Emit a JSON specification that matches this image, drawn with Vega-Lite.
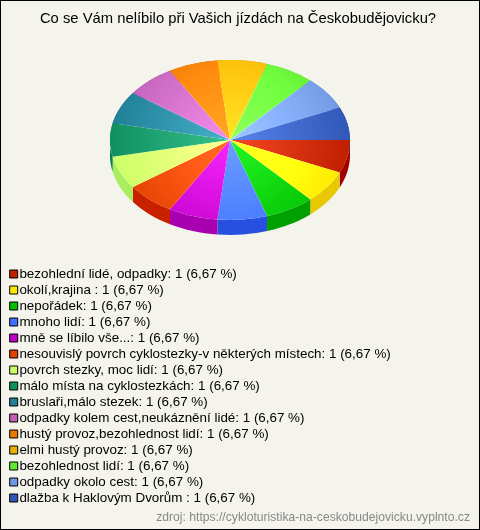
{
"$schema":"https://vega.github.io/schema/vega-lite/v6.json",
"width":480,"height":530,"padding":0,"autosize":{"type":"none"},
"background":"#f5f4ec",
"config":{"font":"Liberation Sans","view":{"fill":"#f5f4ec","stroke":"#000","strokeWidth":2}},
"title":{"text":"Co se Vám nelíbilo při Vašich jízdách na Českobudějovicku?","font":"Liberation Sans","fontSize":14.8,"fontWeight":"normal","color":"#000","anchor":"middle","frame":"group","offset":-26,"dx":-2},
"data":{"values":[
{"poradi":1,"odpoved":"bezohlední lidé, odpadky: 1 (6,67 %)","pocet":1},
{"poradi":2,"odpoved":"okolí,krajina : 1 (6,67 %)","pocet":1},
{"poradi":3,"odpoved":"nepořádek: 1 (6,67 %)","pocet":1},
{"poradi":4,"odpoved":"mnoho lidí: 1 (6,67 %)","pocet":1},
{"poradi":5,"odpoved":"mně se líbilo vše...: 1 (6,67 %)","pocet":1},
{"poradi":6,"odpoved":"nesouvislý povrch cyklostezky-v některých místech: 1 (6,67 %)","pocet":1},
{"poradi":7,"odpoved":"povrch stezky, moc lidí: 1 (6,67 %)","pocet":1},
{"poradi":8,"odpoved":"málo místa na cyklostezkách: 1 (6,67 %)","pocet":1},
{"poradi":9,"odpoved":"bruslaři,málo stezek: 1 (6,67 %)","pocet":1},
{"poradi":10,"odpoved":"odpadky kolem cest,neukáznění lidé: 1 (6,67 %)","pocet":1},
{"poradi":11,"odpoved":"hustý provoz,bezohlednost lidí: 1 (6,67 %)","pocet":1},
{"poradi":12,"odpoved":"elmi hustý provoz: 1 (6,67 %)","pocet":1},
{"poradi":13,"odpoved":"bezohlednost lidí: 1 (6,67 %)","pocet":1},
{"poradi":14,"odpoved":"odpadky okolo cest: 1 (6,67 %)","pocet":1},
{"poradi":15,"odpoved":"dlažba k Haklovým Dvorům : 1 (6,67 %)","pocet":1}
]},
"encoding":{
"x":{"datum":230,"type":"quantitative","scale":{"domain":[0,480],"range":[0,480],"nice":false,"zero":false},"axis":null},
"y":{"datum":140,"type":"quantitative","scale":{"domain":[0,530],"range":[0,530],"nice":false,"zero":false},"axis":null}
},
"transform":[
{"stack":"pocet","groupby":[],"sort":[{"field":"poradi","order":"ascending"}],"as":["s0","s1"]},
{"joinaggregate":[{"op":"sum","field":"pocet","as":"celkem"}]},
{"calculate":"round(12000*cos(2*PI*datum.s0/datum.celkem))/100","as":"x0"},
{"calculate":"round(8000*sin(2*PI*datum.s0/datum.celkem))/100","as":"y0"},
{"calculate":"round(12000*cos(2*PI*datum.s1/datum.celkem))/100","as":"x1"},
{"calculate":"round(8000*sin(2*PI*datum.s1/datum.celkem))/100","as":"y1"},
{"calculate":"'M0,0L'+datum.x0+','+datum.y0+'A120,80 0 0 1 '+datum.x1+','+datum.y1+'Z'","as":"vysec"},
{"calculate":"'M'+datum.x0+','+datum.y0+'A120,80 0 0 1 '+datum.x1+','+datum.y1+'L'+datum.x1+','+(datum.y1+15)+'A120,80 0 0 0 '+datum.x0+','+(datum.y0+15)+'Z'","as":"bok"}
],
"resolve":{"scale":{"fill":"independent"}},
"layer":[
{"mark":{"type":"point","filled":true,"size":4,"opacity":1},
 "encoding":{
  "shape":{"field":"bok","type":"nominal","scale":null,"legend":null},
  "fill":{"field":"odpoved","type":"nominal","legend":null,"sort":null,"scale":{"range":["#a00000","#e8c800","#00a000","#2850e0","#a800b0","#c82000","#a8ee60","#008040","#186878","#a04898","#c86000","#c89800","#40c820","#5878c0","#204098"]}}
 }},
{"mark":{"type":"point","filled":true,"size":4,"opacity":1},
 "encoding":{
  "shape":{"field":"vysec","type":"nominal","scale":null,"legend":null},
  "fill":{"field":"odpoved","type":"nominal","sort":null,
   "scale":{"range":["#c02000","#ffe800","#00c000","#4070ff","#c000c8","#e04000","#ccff66","#109060","#208098","#c060b8","#e87800","#e8b000","#60e830","#7098e0","#3058b8"]},
   "legend":{"title":null,"orient":"none","legendX":7,"legendY":266,"symbolType":"square","symbolSize":64,"symbolStrokeColor":"#000","symbolStrokeWidth":1,"symbolOpacity":1,"labelFont":"Liberation Sans","labelFontSize":13.4,"labelColor":"#000","labelLimit":460,"labelOffset":-1,"clipHeight":16,"rowPadding":0}}
 }},
{"data":{"values":[{"vrstva":"odlesk"}]},
 "mark":{"type":"point","filled":true,"size":4,"opacity":1,"blend":"color-dodge","shape":"M-120,0A120,80 0 1 1 120,0A120,80 0 1 1 -120,0Z",
  "fill":{"gradient":"radial","x1":0.5,"y1":0.5,"r1":0,"x2":0.5,"y2":0.5,"r2":0.5,"stops":[{"offset":0,"color":"#383838"},{"offset":1,"color":"#000000"}]}}},
{"data":{"values":[{"vrstva":"odlesk"}]},
 "mark":{"type":"point","filled":true,"size":4,"opacity":1,"shape":"M-120,0A120,80 0 1 1 120,0A120,80 0 1 1 -120,0Z",
  "fill":{"gradient":"radial","x1":0.5,"y1":0.5,"r1":0,"x2":0.5,"y2":0.5,"r2":0.5,"stops":[{"offset":0,"color":"rgba(255,255,255,0.14)"},{"offset":1,"color":"rgba(255,255,255,0)"}]}}},
{"data":{"values":[{"zdroj":"zdroj: https://cykloturistika-na-ceskobudejovicku.vyplnto.cz"}]},
 "mark":{"type":"text","align":"right","baseline":"middle","fontSize":12.15,"color":"#888888","font":"Liberation Sans"},
 "encoding":{"text":{"field":"zdroj"},"x":{"datum":470},"y":{"datum":517}}}
]
}
